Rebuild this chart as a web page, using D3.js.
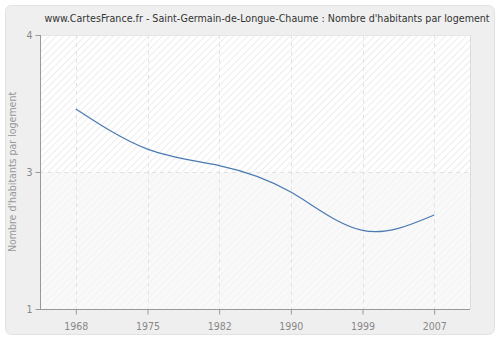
<!DOCTYPE html>
<html><head><meta charset="utf-8">
<script src="https://cdn.jsdelivr.net/npm/d3@7/dist/d3.min.js"></script>
<style>body{margin:0;background:#fff}svg{display:block}</style>
</head><body>
<svg id="c" width="500" height="340"></svg>
<script>
const years = ["1968","1975","1982","1990","1999","2007"];
const values = [3.19, 2.75, 2.57, 2.28, 1.86, 2.03];
const yTickValues = [1, 2.5, 4];
const yTickLabels = ["1", "3", "4"];
const title = "www.CartesFrance.fr - Saint-Germain-de-Longue-Chaume : Nombre d'habitants par logement";
const yTitle = "Nombre d'habitants par logement";

const svg = d3.select("#c");
const font = "DejaVu Sans Condensed, DejaVu Sans, sans-serif";
const m = {l: 40, r: 470, t: 35, b: 309};

const defs = svg.append("defs");
const p1 = defs.append("pattern").attr("id","h1").attr("patternUnits","userSpaceOnUse")
  .attr("width",5).attr("height",5).attr("patternTransform","rotate(45)");
p1.append("rect").attr("width",5).attr("height",5).attr("fill","#ffffff");
p1.append("line").attr("x1",0).attr("y1",0).attr("x2",0).attr("y2",5).attr("stroke","#e8e8e8").attr("stroke-width",1.5);
const p2 = defs.append("pattern").attr("id","h2").attr("patternUnits","userSpaceOnUse")
  .attr("width",5).attr("height",5).attr("patternTransform","rotate(45)");
p2.append("rect").attr("width",5).attr("height",5).attr("fill","#f9f9f9");
p2.append("line").attr("x1",0).attr("y1",0).attr("x2",0).attr("y2",5).attr("stroke","#f1f1f1").attr("stroke-width",1.5);

svg.append("rect").attr("x",5.5).attr("y",5.5).attr("width",489).attr("height",329).attr("rx",6)
  .attr("fill","#efefef").attr("stroke","#e2e2e2");

const x = d3.scalePoint().domain(years).range([m.l, m.r]).padding(0.5);
const y = d3.scaleLinear().domain([1, 4]).range([m.b, m.t]);

svg.append("rect").attr("x",m.l).attr("y",m.t).attr("width",m.r-m.l).attr("height",y(2.5)-m.t).attr("fill","url(#h1)");
svg.append("rect").attr("x",m.l).attr("y",y(2.5)).attr("width",m.r-m.l).attr("height",m.b-y(2.5)).attr("fill","url(#h2)");
svg.append("line").attr("x1",m.r+0.5).attr("x2",m.r+0.5).attr("y1",m.t).attr("y2",m.b).attr("stroke","#dcdcdc");
svg.append("line").attr("x1",m.l).attr("x2",m.r).attr("y1",m.t+0.5).attr("y2",m.t+0.5).attr("stroke","#e6e6e6");

const grid = svg.append("g").attr("stroke","#e2e2e2").attr("stroke-dasharray","4,4");
years.forEach(d => grid.append("line").attr("x1",Math.round(x(d))+0.5).attr("x2",Math.round(x(d))+0.5).attr("y1",m.t).attr("y2",m.b));
grid.append("line").attr("x1",m.l).attr("x2",m.r).attr("y1",Math.round(y(2.5))+0.5).attr("y2",Math.round(y(2.5))+0.5);

const line = d3.line().x((d,i)=>x(years[i])).y(d=>y(d)).curve(d3.curveNatural);
svg.append("path").datum(values).attr("d",line).attr("fill","none").attr("stroke","#4a7ab0").attr("stroke-width",1.2);

const xAxis = svg.append("g").attr("transform",`translate(0,${m.b+0.5})`)
  .call(d3.axisBottom(x).tickSize(5).tickSizeOuter(0));
const yAxis = svg.append("g").attr("transform",`translate(${m.l+0.5},0)`)
  .call(d3.axisLeft(y).tickValues(yTickValues).tickFormat((d,i)=>yTickLabels[i]).tickSize(5).tickSizeOuter(0));
[xAxis, yAxis].forEach(a => {
  a.select(".domain").attr("stroke","#999");
  a.selectAll(".tick line").attr("stroke","#999");
  a.selectAll("text").attr("fill","#888").attr("font-family",font).attr("font-size",10.5);
});
xAxis.selectAll("text").attr("dy","1.2em");
yAxis.select(".domain").attr("d",`M0,${m.t}V${m.b}`);
xAxis.select(".domain").attr("d",`M${m.l},0H${m.r}`);

const t = svg.append("text").attr("x",267).attr("y",22).attr("text-anchor","middle").attr("font-family",font)
  .attr("font-size",11).attr("fill","#333").text(title);
const w = t.node().getComputedTextLength();
t.attr("font-size", 11 * 446 / w);
svg.append("text").attr("transform",`translate(16,${(m.t+m.b)/2}) rotate(-90)`).attr("text-anchor","middle")
  .attr("font-family",font).attr("font-size",10.5).attr("fill","#999").text(yTitle);
</script>
</body></html>
